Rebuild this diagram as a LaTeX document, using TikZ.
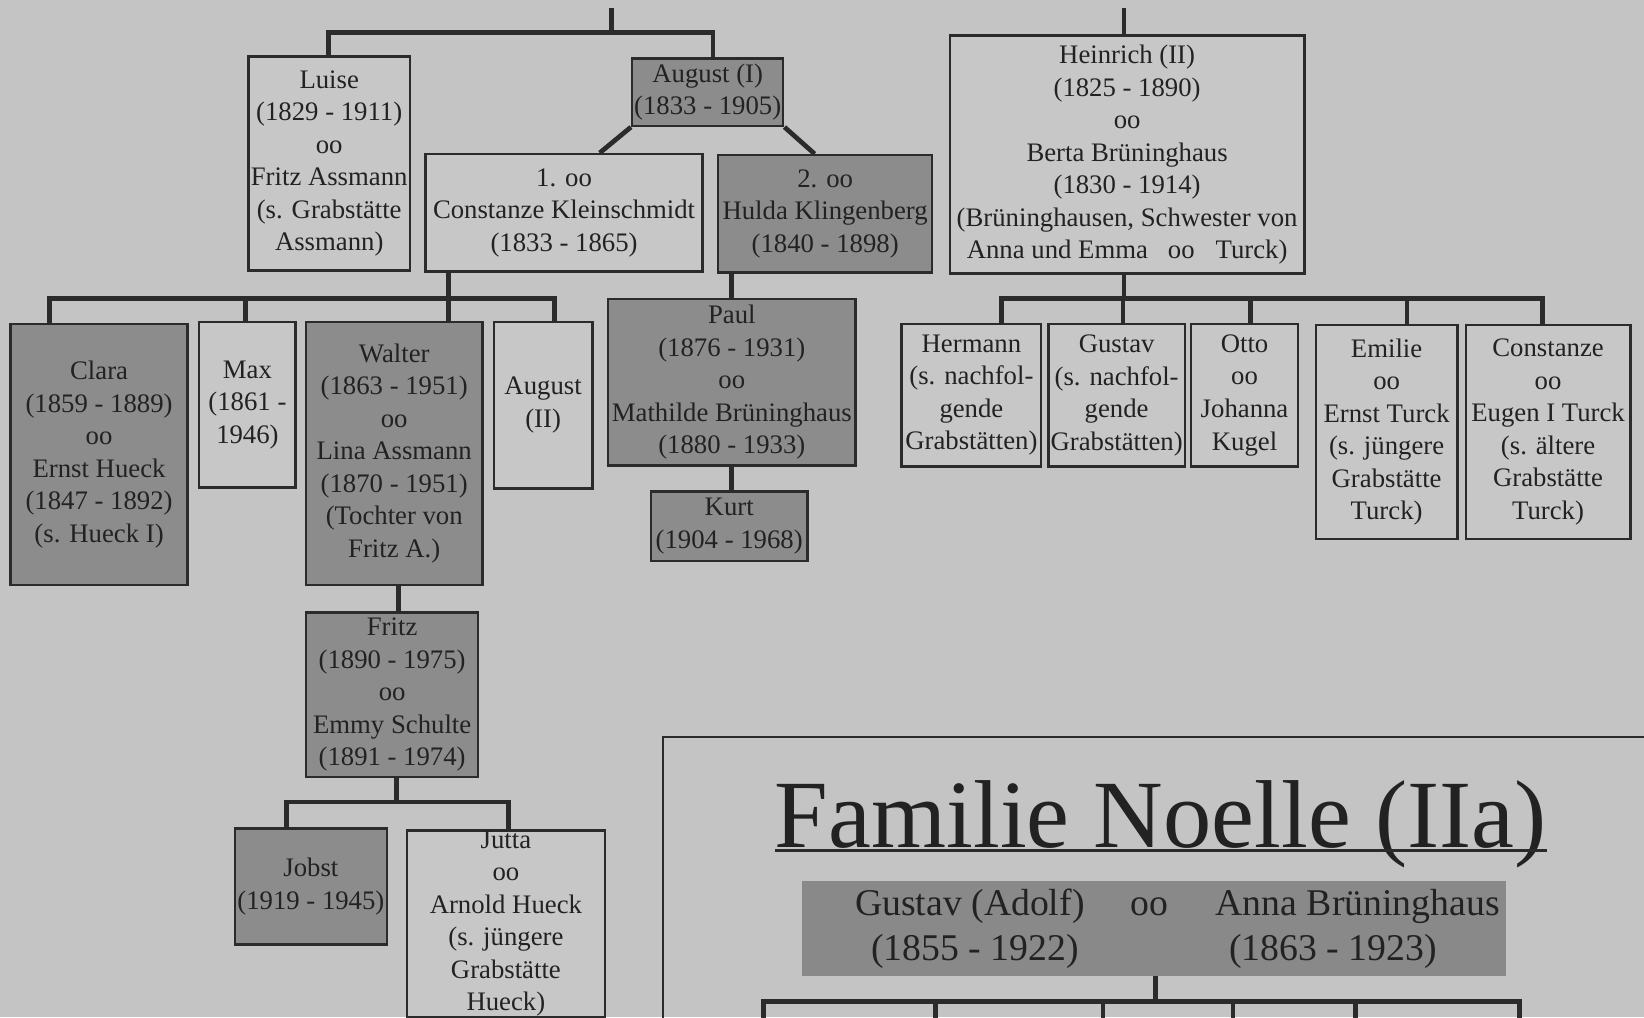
\documentclass[tikz,border=0pt]{standalone}
\usepackage{fontspec}
\setmainfont{Liberation Serif}
\definecolor{paper}{HTML}{C4C4C4}
\definecolor{paperl}{HTML}{C7C7C7}
\definecolor{darkf}{HTML}{8C8C8C}
\definecolor{gfill}{HTML}{898989}
\definecolor{ink}{HTML}{222222}
\definecolor{edge}{HTML}{2B2B2B}
\begin{document}
\begin{tikzpicture}[x=1pt,y=-1pt,
  every node/.style={inner sep=0pt, text=ink, align=center, font=\fontsize{25.5}{31}\selectfont},
  lbox/.style={draw=edge, line width=2.4pt, fill=paperl, rectangle},
  dbox/.style={draw=edge, line width=2.4pt, fill=darkf, rectangle},
  conn/.style={draw=edge, line width=4.5pt, line join=miter},
  framel/.style={draw=edge, line width=2pt},
  bigtext/.style={font=\fontsize{36}{43}\selectfont, anchor=base}]
\fill[paper] (0,0) rectangle (1568,970);
\clip (0,0) rectangle (1568,970);

% ---------- left family ----------
\node[lbox, minimum width=154pt, minimum height=204pt] (luise) at (314,156)
  {Luise\\(1829 - 1911)\\oo\\Fritz Assmann\\(s. Grabstätte\\Assmann)};
\node[dbox, minimum width=144pt, minimum height=64pt] (augusti) at (675,88)
  {August (I)\\(1833 - 1905)};
\node[lbox, minimum width=264pt, minimum height=112pt] (constanze) at (538,203)
  {1. oo\\Constanze Kleinschmidt\\(1833 - 1865)};
\node[dbox, minimum width=204pt, minimum height=112pt] (hulda) at (787,204)
  {2. oo\\Hulda Klingenberg\\(1840 - 1898)};

\node[dbox, minimum width=169pt, minimum height=249pt] (clara) at (94.5,433.5)
  {Clara\\(1859 - 1889)\\oo\\Ernst Hueck\\(1847 - 1892)\\(s. Hueck I)};
\node[lbox, minimum width=92pt, minimum height=158pt] (max) at (236,386)
  {Max\\(1861 -\\1946)};
\node[dbox, minimum width=168pt, minimum height=251pt] (walter) at (376,432.5)
  {Walter\\(1863 - 1951)\\oo\\Lina Assmann\\(1870 - 1951)\\(Tochter von\\Fritz A.)};
\node[lbox, minimum width=94pt, minimum height=159pt] (augii) at (518,386.5)
  {August\\(II)};
\node[dbox, minimum width=236pt, minimum height=159pt] (paul) at (698,364.5)
  {Paul\\(1876 - 1931)\\oo\\Mathilde Brüninghaus\\(1880 - 1933)};
\node[dbox, minimum width=149pt, minimum height=66pt] (kurt) at (695.5,502)
  {Kurt\\(1904 - 1968)};
\node[dbox, minimum width=164pt, minimum height=157pt] (fritz) at (374,662.5)
  {Fritz\\(1890 - 1975)\\oo\\Emmy Schulte\\(1891 - 1974)};
\node[dbox, minimum width=145pt, minimum height=111pt] (jobst) at (296.5,845.5)
  {Jobst\\(1919 - 1945)};
\node[lbox, minimum width=189pt, minimum height=178pt] (jutta) at (482.5,881)
  {Jutta\\oo\\Arnold Hueck\\(s. jüngere\\Grabstätte\\Hueck)};

% ---------- right family ----------
\node[lbox, minimum width=338pt, minimum height=227pt] (heinrich) at (1075,147.5)
  {Heinrich (II)\\(1825 - 1890)\\oo\\Berta Brüninghaus\\(1830 - 1914)\\(Brüninghausen, Schwester von\\Anna und Emma\hspace{19pt}oo\hspace{20pt}Turck)};
\node[lbox, minimum width=133pt, minimum height=136pt] (hermann) at (926.5,377)
  {Hermann\\(s. nachfol-\\gende\\Grabstätten)};
\node[lbox, minimum width=130pt, minimum height=136pt] (gustavk) at (1065,377)
  {Gustav\\(s. nachfol-\\gende\\Grabstätten)};
\node[lbox, minimum width=102pt, minimum height=136pt] (otto) at (1187,377)
  {Otto\\oo\\Johanna\\Kugel};
\node[lbox, minimum width=135pt, minimum height=204pt] (emilie) at (1322.5,412)
  {Emilie\\oo\\Ernst Turck\\(s. jüngere\\Grabstätte\\Turck)};
\node[lbox, minimum width=157pt, minimum height=204pt] (constb) at (1476.5,412)
  {Constanze\\oo\\Eugen I Turck\\(s. ältere\\Grabstätte\\Turck)};

% ---------- connectors ----------
\coordinate (topL) at (583,8);
\coordinate (jt) at (583,31);
\draw[conn] (topL) -- (jt);
\draw[conn] (luise.north -| 313,0) |- (jt) -| (augusti.north -| 680,0);
\draw[conn] (augusti.south west) -- (constanze.north -| 572,0);
\draw[conn] (augusti.south east) -- (hulda.north -| 777,0);

\coordinate (jc) at (428,285);
\coordinate (dmax) at (234,0);
\draw[conn] (constanze.south -| jc) -- (jc);
\draw[conn] (clara.north -| 47,0) |- (jc) -| (augii.north -| 529,0);
\draw[conn] (max.north -| dmax) -- (dmax |- jc);
\draw[conn] (walter.north -| jc) -- (jc);

\draw[conn] (paul.north) -- (paul.north |- hulda.south);
\draw[conn] (paul.south) -- (paul.south |- kurt.north);
\draw[conn] (walter.south -| 380,0) -- (fritz.north -| 380,0);

\coordinate (jf) at (378,765);
\draw[conn] (fritz.south -| jf) -- (jf);
\draw[conn] (jobst.north -| 273,0) |- (jf) -| (jutta.north -| 485,0);

\coordinate (topR) at (1072,8);
\draw[conn] (topR) -- (heinrich.north -| topR);
\coordinate (jh) at (1072,285);
\coordinate (dgus) at (1071,0);
\coordinate (dotto) at (1193,0);
\coordinate (demi) at (1342,0);
\draw[conn] (heinrich.south -| jh) -- (jh);
\draw[conn] (hermann.north -| 955,0) |- (jh) -| (constb.north -| 1471,0);
\draw[conn] (gustavk.north -| dgus) -- (dgus |- jh);
\draw[conn] (otto.north -| dotto) -- (dotto |- jh);
\draw[conn] (emilie.north -| demi) -- (demi |- jh);

% ---------- lower right panel ----------
\coordinate (fb) at (632,990);
\coordinate (fr) at (1590,703);
\draw[framel] (fb) |- (fr);

\node[font=\fontsize{92}{100}\selectfont, anchor=base] (title) at (1107,808) {Familie Noelle (IIa)};
\draw[edge, line width=2.6pt] ([yshift=-3.5pt]title.base west) -- ([yshift=-3.5pt]title.base east);

\node[fill=gfill, minimum width=671pt, minimum height=91pt] (gbox) at (1100.5,885.5) {};
\node[bigtext] (gname) at (925,873) {Gustav (Adolf)};
\node[bigtext] (goo) at (1096.5,873) {oo};
\node[bigtext] (aname) at (1295,873) {Anna Brüninghaus};
\node[bigtext] (gdate) at (930,916) {(1855 - 1922)};
\node[bigtext] (adate) at (1271.5,916) {(1863 - 1923)};

\coordinate (jg) at (1102,955);
\coordinate (k1) at (728,990);
\coordinate (k2) at (892,990);
\coordinate (k3) at (1052,990);
\coordinate (k4) at (1176,990);
\coordinate (k5) at (1293,990);
\coordinate (k6) at (1449,990);
\draw[conn] (gbox.south -| jg) -- (jg);
\draw[conn] (k1) |- (jg) -| (k6);
\draw[conn] (k2) -- (k2 |- jg);
\draw[conn] (k3) -- (k3 |- jg);
\draw[conn] (k4) -- (k4 |- jg);
\draw[conn] (k5) -- (k5 |- jg);
\end{tikzpicture}
\end{document}
